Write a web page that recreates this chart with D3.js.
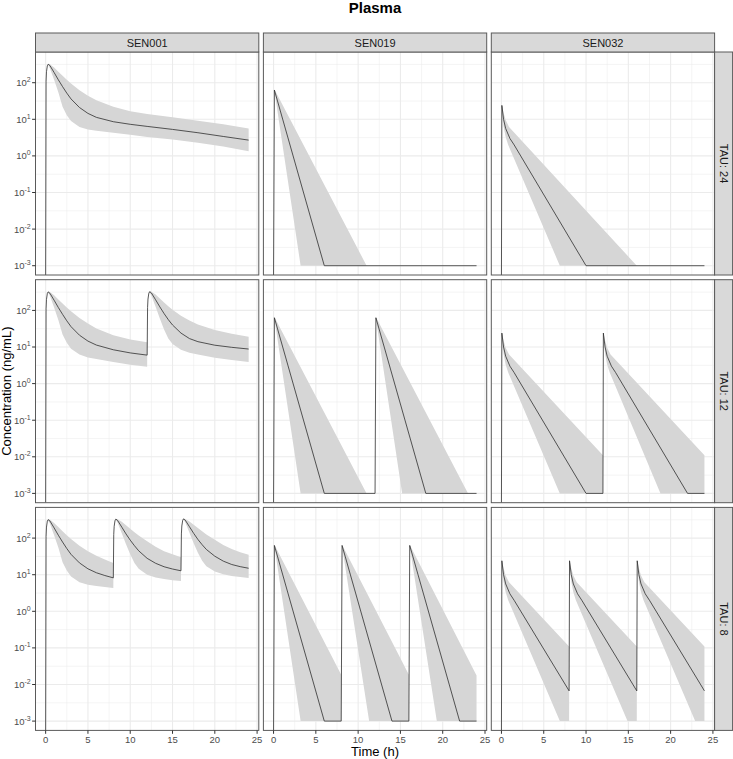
<!DOCTYPE html>
<html>
<head>
<meta charset="utf-8">
<script src="https://cdn.jsdelivr.net/npm/d3@7"></script>
<style>
  body { margin: 0; background: #fff; }
  text { font-family: "Liberation Sans", Arial, Helvetica, sans-serif; }
</style>
</head>
<body>
<div id="chart"></div>
<script>
// facets
const drugs = ["SEN001", "SEN019", "SEN032"];
const taus = [24, 12, 8];

// axis breaks
const xTicks = [0, 5, 10, 15, 20, 25];
const xMinor = [2.5, 7.5, 12.5, 17.5, 22.5];
const yTicks = [0.001, 0.01, 0.1, 1, 10, 100];
const yExp = ["-3", "-2", "-1", "0", "1", "2"];
const yMinor = [0.00316, 0.0316, 0.316, 3.16, 31.6, 316];

// simulated profiles, [time, concentration]; med = median, lo/hi = ribbon edges
const sen001_tau24 = {
    med: [[0,0],[0.05,110],[0.1,200],[0.2,290],[0.3,320],[0.5,295],[1,190],[1.5,120],[2,78],[2.5,52],[3,36],[4,21],[5,14.5],[6,11.3],[8,8.6],[10,7.3],[12,6.4],[15,5.3],[18,4.3],[21,3.4],[24,2.7]],
    lo:  [[0,0],[0.05,100],[0.1,190],[0.2,280],[0.3,300],[0.5,250],[1,120],[1.5,55],[2,22],[2.5,13],[3,9],[4,6.2],[5,5.3],[6,4.9],[8,4.3],[10,3.8],[12,3.3],[15,2.8],[18,2.3],[21,1.8],[24,1.35]],
    hi:  [[0,0],[0.05,115],[0.1,210],[0.2,300],[0.3,330],[0.5,320],[1,260],[1.5,200],[2,155],[2.5,120],[3,95],[4,62],[5,44],[6,33],[8,22],[10,16.5],[12,14],[15,11.3],[18,9.2],[21,7.3],[24,5.6]]
};
const sen001_tau12 = {
    med: [[0,0],[0.05,110],[0.1,200],[0.2,290],[0.3,320],[0.5,295],[1,190],[1.5,120],[2,78],[2.5,52],[3,36],[4,21],[5,14.5],[6,11.3],[8,8.4],[10,6.9],[12,6.0],
          [12.05,120],[12.1,205],[12.2,295],[12.3,325],[12.5,300],[13,195],[13.5,125],[14,82],[14.5,56],[15,40],[16,24],[17,17],[18,14],[20,11.2],[22,9.8],[24,8.8]],
    lo:  [[0,0],[0.05,100],[0.1,190],[0.2,280],[0.3,300],[0.5,250],[1,120],[1.5,55],[2,22],[2.5,13],[3,9],[4,6.2],[5,5.2],[6,4.7],[8,3.9],[10,3.3],[12,2.9],
          [12.05,110],[12.1,195],[12.2,285],[12.3,305],[12.5,255],[13,125],[13.5,60],[14,30],[14.5,17],[15,12],[16,8.4],[17,7.0],[18,6.2],[20,5.1],[22,4.4],[24,3.9]],
    hi:  [[0,0],[0.05,115],[0.1,210],[0.2,300],[0.3,330],[0.5,320],[1,260],[1.5,200],[2,155],[2.5,120],[3,95],[4,62],[5,44],[6,32],[8,21],[10,16],[12,13.5],
          [12.05,125],[12.1,215],[12.2,305],[12.3,335],[12.5,325],[13,270],[13.5,210],[14,165],[14.5,130],[15,105],[16,72],[17,53],[18,41],[20,29],[22,23],[24,19]]
};
const sen001_tau8 = {
    med: [[0,0],[0.05,110],[0.1,200],[0.2,290],[0.3,320],[0.5,295],[1,190],[1.5,120],[2,78],[2.5,52],[3,36],[4,21],[5,14.5],[6,11.3],[7,9.5],[8,8.2],
          [8.05,125],[8.1,210],[8.2,300],[8.3,330],[8.5,305],[9,200],[9.5,130],[10,88],[10.5,62],[11,45],[12,28],[13,20.5],[14,16.5],[15,14.3],[16,12.8],
          [16.05,130],[16.1,215],[16.2,305],[16.3,335],[16.5,310],[17,205],[17.5,135],[18,92],[18.5,66],[19,49],[20,32],[21,23.5],[22,19],[23,16.6],[24,15]],
    lo:  [[0,0],[0.05,100],[0.1,190],[0.2,280],[0.3,300],[0.5,250],[1,120],[1.5,55],[2,22],[2.5,13],[3,9],[4,6.2],[5,5.3],[6,4.9],[7,4.6],[8,4.3],
          [8.05,118],[8.1,200],[8.2,290],[8.3,310],[8.5,265],[9,135],[9.5,68],[10,36],[10.5,21],[11,14.5],[12,10],[13,8.4],[14,7.6],[15,7.1],[16,6.7],
          [16.05,122],[16.1,205],[16.2,295],[16.3,315],[16.5,270],[17,140],[17.5,72],[18,40],[18.5,24],[19,17],[20,12.3],[21,10.3],[22,9.2],[23,8.6],[24,8.1]],
    hi:  [[0,0],[0.05,115],[0.1,210],[0.2,300],[0.3,330],[0.5,320],[1,260],[1.5,200],[2,155],[2.5,120],[3,95],[4,62],[5,44],[6,33],[7,26],[8,21],
          [8.05,130],[8.1,220],[8.2,310],[8.3,340],[8.5,330],[9,280],[9.5,225],[10,180],[10.5,145],[11,118],[12,82],[13,58],[14,44],[15,36],[16,30],
          [16.05,135],[16.1,225],[16.2,315],[16.3,345],[16.5,335],[17,285],[17.5,232],[18,188],[18.5,153],[19,126],[20,90],[21,65],[22,50],[23,41],[24,35]]
};

const sen019_tau24 = {
    med: [[0,0],[0.1,63],[6,0.001],[24,0.001]],
    lo:  [[0,0],[0.1,60],[3.2,0.001],[24,0.001]],
    hi:  [[0,0],[0.1,66],[11,0.001],[24,0.001]]
};
const sen019_tau12 = {
    med: [[0,0],[0.1,63],[6,0.001],[12,0.001],[12.1,63],[18,0.001],[24,0.001]],
    lo:  [[0,0],[0.1,60],[3.2,0.001],[12,0.001],[12.1,60],[15.2,0.001],[24,0.001]],
    hi:  [[0,0],[0.1,66],[11,0.001],[12,0.001],[12.1,66],[23,0.001],[24,0.001]]
};
const sen019_tau8 = {
    med: [[0,0],[0.1,63],[6,0.001],[8,0.001],[8.1,63],[14,0.001],[16,0.001],[16.1,63],[22,0.001],[24,0.001]],
    lo:  [[0,0],[0.1,60],[3.2,0.001],[8,0.001],[8.1,60],[11.3,0.001],[16,0.001],[16.1,60],[19.3,0.001],[24,0.001]],
    hi:  [[0,0],[0.1,66],[8,0.0186],[8.1,66],[16,0.0186],[16.1,66],[24,0.0175]]
};

const sen032_tau24 = {
    med: [[0,0],[0.05,24],[0.25,10],[0.5,5.6],[1,3.0],[1.5,2.0],[10,0.001],[24,0.001]],
    lo:  [[0,0],[0.05,23],[0.25,6.5],[0.5,3.3],[0.8,2.0],[6.9,0.001],[24,0.001]],
    hi:  [[0,0],[0.05,25],[0.25,15],[0.5,9.5],[0.9,6.2],[16,0.001],[24,0.001]]
};
const sen032_tau12 = {
    med: [[0,0],[0.05,24],[0.25,10],[0.5,5.6],[1,3.0],[1.5,2.0],[10,0.001],[12,0.001],
          [12.05,24],[12.25,10],[12.5,5.6],[13,3.0],[13.5,2.0],[22,0.001],[24,0.001]],
    lo:  [[0,0],[0.05,23],[0.25,6.5],[0.5,3.3],[0.8,2.0],[6.9,0.001],[12,0.001],
          [12.05,23],[12.25,6.5],[12.5,3.3],[12.8,2.0],[18.8,0.001],[24,0.001]],
    hi:  [[0,0],[0.05,25],[0.25,15],[0.5,9.5],[0.9,6.2],[12,0.011],
          [12.05,25],[12.25,15],[12.5,9.5],[12.9,6.2],[24,0.011]]
};
const sen032_tau8 = {
    med: [[0,0],[0.05,24],[0.25,10],[0.5,5.6],[1,3.0],[1.5,2.0],[8,0.0067],
          [8.05,24],[8.25,10],[8.5,5.6],[9,3.0],[9.5,2.0],[16,0.0067],
          [16.05,24],[16.25,10],[16.5,5.6],[17,3.0],[17.5,2.0],[24,0.0067]],
    lo:  [[0,0],[0.05,23],[0.25,6.5],[0.5,3.3],[0.8,2.0],[6.9,0.001],[8,0.001],
          [8.05,23],[8.25,6.5],[8.5,3.3],[8.8,2.0],[14.9,0.001],[16,0.001],
          [16.05,23],[16.25,6.5],[16.5,3.3],[16.8,2.0],[22.9,0.001],[24,0.001]],
    hi:  [[0,0],[0.05,25],[0.25,15],[0.5,9.5],[0.9,6.2],[8,0.11],
          [8.05,25],[8.25,15],[8.5,9.5],[8.9,6.2],[16,0.11],
          [16.05,25],[16.25,15],[16.5,9.5],[16.9,6.2],[24,0.11]]
};

// rows = tau, columns = drug
const panels = [
    [sen001_tau24, sen019_tau24, sen032_tau24],
    [sen001_tau12, sen019_tau12, sen032_tau12],
    [sen001_tau8,  sen019_tau8,  sen032_tau8]
];

const width = 733, height = 759;
const left0 = 35.5, top0 = 52;
const pw = 223.3, ph = 223;
const gapX = 4.6, gapY = 4.7;
const stripH = 19, stripW = 18;
const borderCol = "#5a5a5a";

const svg = d3.select("#chart").append("svg")
    .attr("width", width)
    .attr("height", height);

const x = d3.scaleLinear().domain([-1.2, 25.2]).range([0, pw]);
const y = d3.scaleLog().domain([Math.pow(10, -3.254), Math.pow(10, 2.839)]).range([ph, 0]);
const yv = c => c > 0 ? y(c) : ph;   // log(0) -> -Inf, drawn at panel floor

const line = d3.line().x(d => x(d[0])).y(d => yv(d[1]));

svg.append("text")
    .attr("x", left0 + (3 * pw + 2 * gapX) / 2)
    .attr("y", 12.5)
    .attr("text-anchor", "middle")
    .attr("font-size", "15px")
    .attr("font-weight", "bold")
    .attr("fill", "#000")
    .text("Plasma");

const defs = svg.append("defs");

taus.forEach((tau, r) => {
    drugs.forEach((drug, c) => {
        const px = left0 + c * (pw + gapX);
        const py = top0 + r * (ph + gapY);
        const g = svg.append("g").attr("transform", `translate(${px},${py})`);
        const clipId = `clip-${r}-${c}`;
        defs.append("clipPath").attr("id", clipId)
            .append("rect").attr("width", pw).attr("height", ph);

        // grid
        g.selectAll(".xminor").data(xMinor).enter().append("line")
            .attr("x1", d => x(d)).attr("x2", d => x(d))
            .attr("y1", 0).attr("y2", ph)
            .attr("stroke", "#ebebeb").attr("stroke-width", 0.55);
        g.selectAll(".yminor").data(yMinor).enter().append("line")
            .attr("x1", 0).attr("x2", pw)
            .attr("y1", d => y(d)).attr("y2", d => y(d))
            .attr("stroke", "#ebebeb").attr("stroke-width", 0.55);
        g.selectAll(".xmajor").data(xTicks).enter().append("line")
            .attr("x1", d => x(d)).attr("x2", d => x(d))
            .attr("y1", 0).attr("y2", ph)
            .attr("stroke", "#ebebeb").attr("stroke-width", 1.1);
        g.selectAll(".ymajor").data(yTicks).enter().append("line")
            .attr("x1", 0).attr("x2", pw)
            .attr("y1", d => y(d)).attr("y2", d => y(d))
            .attr("stroke", "#ebebeb").attr("stroke-width", 1.1);

        const d = panels[r][c];
        const plot = g.append("g").attr("clip-path", `url(#${clipId})`);
        plot.append("path")
            .attr("d", line(d.hi.concat(d.lo.slice().reverse())) + "Z")
            .attr("fill", "#d6d6d6");
        plot.append("path")
            .attr("d", line(d.med))
            .attr("fill", "none")
            .attr("stroke", "#2e2e2e")
            .attr("stroke-width", 0.8);

        g.append("rect")
            .attr("width", pw).attr("height", ph)
            .attr("fill", "none")
            .attr("stroke", borderCol).attr("stroke-width", 1);

        // top strips
        if (r === 0) {
            svg.append("rect")
                .attr("x", px).attr("y", top0 - stripH)
                .attr("width", pw).attr("height", stripH)
                .attr("fill", "#d9d9d9")
                .attr("stroke", borderCol).attr("stroke-width", 1);
            svg.append("text")
                .attr("x", px + pw / 2).attr("y", top0 - stripH / 2 + 4)
                .attr("text-anchor", "middle")
                .attr("font-size", "11px")
                .attr("fill", "#1a1a1a")
                .text(drug);
        }
        // right strips
        if (c === drugs.length - 1) {
            svg.append("rect")
                .attr("x", px + pw).attr("y", py)
                .attr("width", stripW).attr("height", ph)
                .attr("fill", "#d9d9d9")
                .attr("stroke", borderCol).attr("stroke-width", 1);
            svg.append("text")
                .attr("transform", `translate(${px + pw + stripW / 2 - 4},${py + ph / 2}) rotate(90)`)
                .attr("text-anchor", "middle")
                .attr("font-size", "11px")
                .attr("fill", "#1a1a1a")
                .text(`TAU: ${tau}`);
        }
        // left axis
        if (c === 0) {
            g.selectAll(".ytick").data(yTicks).enter().append("line")
                .attr("x1", -3.4).attr("x2", 0)
                .attr("y1", t => y(t)).attr("y2", t => y(t))
                .attr("stroke", "#333").attr("stroke-width", 1);
            const lab = g.selectAll(".ylab").data(yTicks).enter().append("text")
                .attr("x", -4.8)
                .attr("y", t => y(t) + 3.5)
                .attr("text-anchor", "end")
                .attr("font-size", "9.5px")
                .attr("fill", "#4d4d4d");
            lab.append("tspan").text("10");
            lab.append("tspan")
                .attr("dy", -4)
                .attr("font-size", "7px")
                .text((t, i) => yExp[i]);
        }
        // bottom axis
        if (r === taus.length - 1) {
            g.selectAll(".xtick").data(xTicks).enter().append("line")
                .attr("x1", t => x(t)).attr("x2", t => x(t))
                .attr("y1", ph).attr("y2", ph + 3.4)
                .attr("stroke", "#333").attr("stroke-width", 1);
            g.selectAll(".xlab").data(xTicks).enter().append("text")
                .attr("x", t => x(t))
                .attr("y", ph + 13)
                .attr("text-anchor", "middle")
                .attr("font-size", "9.5px")
                .attr("fill", "#4d4d4d")
                .text(t => t);
        }
    });
});

// axis titles
svg.append("text")
    .attr("x", left0 + (3 * pw + 2 * gapX) / 2)
    .attr("y", 756)
    .attr("text-anchor", "middle")
    .attr("font-size", "13px")
    .attr("fill", "#000")
    .text("Time (h)");

svg.append("text")
    .attr("transform", `translate(11,${top0 + (3 * ph + 2 * gapY) / 2}) rotate(-90)`)
    .attr("text-anchor", "middle")
    .attr("font-size", "13px")
    .attr("fill", "#000")
    .text("Concentration (ng/mL)");
</script>
</body>
</html>
